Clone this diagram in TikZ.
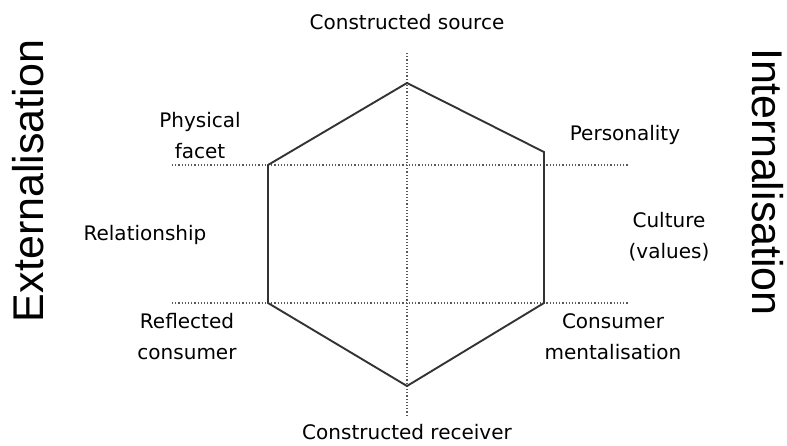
\documentclass[tikz,border=0pt]{standalone}
\usepackage{fontspec}
\setmainfont{DejaVu Sans}
\newfontfamily\sidefont{Liberation Sans}
\usetikzlibrary{positioning}
\begin{document}
\begin{tikzpicture}[x=1pt,y=-1pt,
  facet/.style={align=center, inner sep=0pt, font=\fontsize{20}{31}\selectfont},
  side/.style={inner sep=0pt, font=\sidefont\fontsize{43}{48}\selectfont},
  axis/.style={dotted, line width=1.2pt, black!65},
  prism/.style={line width=1.9pt, black!80, line join=miter}]
  \useasboundingbox (0,0) rectangle (787,446);

  % hexagon corners
  \coordinate (top) at (407,83);
  \coordinate (ur) at (544,152);
  \coordinate (lr) at (544,303);
  \coordinate (bot) at (407,386);
  \coordinate (ll) at (268,303);
  \coordinate (ul) at (268,165);

  % ends of the dotted axes
  \coordinate (vtop) at (407,53);
  \coordinate (vbot) at (407,415);
  \coordinate (hul) at (172,165);
  \coordinate (hur) at (628,165);
  \coordinate (hll) at (172,303);
  \coordinate (hlr) at (628,303);

  \draw[axis] (vtop)--(vbot);
  \draw[axis] (hul)--(hur);
  \draw[axis] (hll)--(hlr);

  \draw[prism] (top)--(ur)--(lr)--(bot)--(ll)--(ul)--cycle;

  \node[facet] (src) at (407,22) {Constructed source};
  \node[facet] (rcv) at (407,432) {Constructed receiver};
  \node[facet] (phys) at (200,136) {Physical\\facet};
  \node[facet] (pers) at (625,135) {Personality};
  \node[facet] (rel) at (145,235) {Relationship};
  \node[facet] (cult) at (669,237) {Culture\\(values)};
  \node[facet] (refl) at (187,337) {Reflected\\consumer};
  \node[facet] (ment) at (613,337) {Consumer\\mentalisation};

  \node[side, rotate=90] (ext) at (28,181) {Externalisation};
  \node[side, rotate=-90] (int) at (768,182) {Internalisation};
\end{tikzpicture}
\end{document}
